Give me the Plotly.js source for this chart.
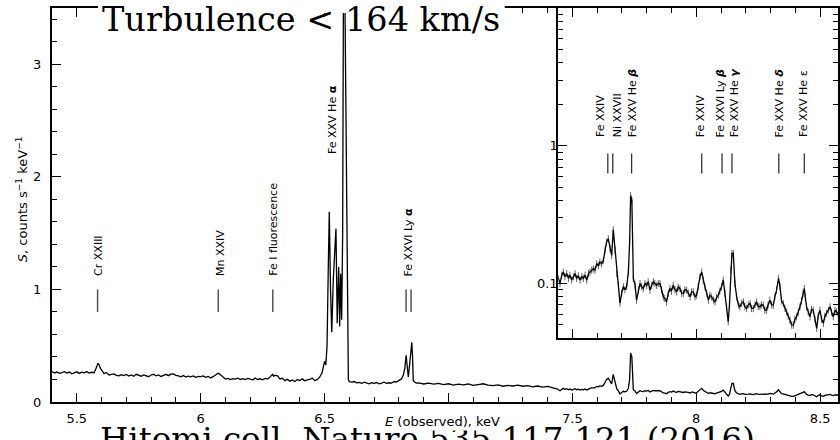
<!DOCTYPE html>
<html>
<head>
<meta charset="utf-8">
<script src="https://cdn.plot.ly/plotly-3.0.1.min.js"></script>
<style>html,body{margin:0;padding:0;background:#fff;}#chart{width:840px;height:440px;}</style>
</head>
<body>
<div id="chart"></div>
<script>
// ---- Spectrum data (energy in keV, S in counts s^-1 keV^-1) ----
const energy = [
5.40,5.41,5.42,5.43,5.44,5.45,5.46,5.47,5.48,5.49,5.50,5.51,5.52,5.53,5.54,5.55,5.56,5.57,5.575,5.58,5.585,5.59,5.595,5.60,
5.61,5.62,5.63,5.64,5.65,5.66,5.67,5.68,5.69,5.70,5.71,5.72,5.73,5.74,5.75,5.76,5.77,5.78,5.79,5.80,5.81,5.82,5.83,5.84,
5.85,5.86,5.87,5.88,5.89,5.90,5.91,5.92,5.93,5.94,5.95,5.96,5.97,5.98,5.99,6.00,6.01,6.02,6.03,6.04,6.05,6.06,6.07,6.075,
6.08,6.09,6.10,6.11,6.12,6.13,6.14,6.15,6.16,6.17,6.18,6.19,6.20,6.21,6.22,6.23,6.24,6.25,6.26,6.27,6.28,6.285,6.29,6.295,
6.30,6.31,6.32,6.33,6.34,6.35,6.36,6.37,6.38,6.39,6.40,6.41,6.42,6.43,6.44,6.45,6.46,6.47,6.48,6.49,6.495,6.50,6.505,6.51,
6.515,6.519,6.524,6.529,6.535,6.541,6.546,6.551,6.557,6.561,6.565,6.569,6.573,6.576,6.582,6.587,6.592,6.596,6.60,
6.61,6.62,6.63,6.64,6.65,6.66,6.67,6.68,6.69,6.70,6.71,6.72,6.73,6.74,6.75,6.76,6.77,6.78,6.79,6.80,6.805,6.81,6.818,6.824,
6.829,6.834,6.838,6.843,6.848,6.852,6.855,6.858,6.865,6.87,6.88,6.90,6.92,6.94,6.96,6.98,7.00,7.02,7.04,7.06,7.08,7.10,
7.12,7.14,7.16,7.18,7.20,7.22,7.24,7.26,7.28,7.30,7.32,7.34,7.36,7.38,7.40,7.42,7.44,
7.450,7.457,7.4635,7.470,7.477,7.484,7.490,7.497,7.504,7.511,7.517,7.524,7.531,7.538,7.544,7.551,7.558,7.565,7.571,7.578,
7.5845,7.591,7.598,7.605,7.611,7.618,7.625,7.632,7.638,7.645,7.652,7.6585,7.665,7.672,7.679,7.686,7.692,7.699,7.7056,7.712,
7.719,7.726,7.731,7.735,7.740,7.746,7.7527,7.759,7.766,7.773,7.779,7.786,7.793,7.800,7.806,7.813,7.820,7.827,7.833,7.840,
7.847,7.8536,7.860,7.867,7.873,7.880,7.887,7.894,7.900,7.907,7.914,7.921,7.927,7.934,7.941,7.948,7.954,7.961,7.968,7.975,
7.981,7.988,7.995,8.0015,8.008,8.015,8.022,8.028,8.035,8.042,8.049,8.055,8.062,8.069,8.0755,8.082,8.089,8.095,8.102,8.109,
8.116,8.1226,8.129,8.134,8.139,8.144,8.1495,8.156,8.163,8.170,8.176,8.183,8.190,8.196,8.203,8.210,8.217,8.223,8.230,8.237,
8.2436,8.250,8.257,8.263,8.2705,8.277,8.284,8.290,8.297,8.304,8.311,8.317,8.324,8.332,8.338,8.344,8.351,8.358,8.365,8.371,
8.378,8.385,8.392,8.398,8.405,8.412,8.4185,8.425,8.431,8.436,8.440,8.445,8.452,8.459,8.465,8.472,8.479,8.486,8.492,8.499,
8.506,8.513,8.519,8.526,8.533,8.540,8.546,8.553,8.560,8.5665,8.573,8.580
];
const counts = [
0.270,0.258,0.266,0.255,0.262,0.270,0.257,0.266,0.250,0.262,0.268,0.254,0.265,0.259,0.270,0.257,0.264,0.260,0.280,0.310,0.345,0.330,0.300,0.280,
0.252,0.262,0.240,0.246,0.250,0.237,0.232,0.242,0.235,0.245,0.231,0.241,0.228,0.246,0.238,0.229,0.241,0.234,0.225,0.240,0.246,0.232,0.240,0.227,
0.238,0.246,0.234,0.248,0.250,0.237,0.232,0.224,0.235,0.221,0.230,0.224,0.232,0.219,0.228,0.225,0.232,0.219,0.227,0.214,0.225,0.238,0.256,0.250,
0.240,0.215,0.204,0.210,0.199,0.208,0.204,0.211,0.200,0.207,0.199,0.210,0.204,0.197,0.212,0.200,0.206,0.197,0.209,0.204,0.222,0.240,0.246,0.228,
0.238,0.232,0.205,0.211,0.190,0.201,0.185,0.196,0.182,0.199,0.190,0.205,0.188,0.197,0.200,0.212,0.190,0.198,0.220,0.260,0.300,0.360,0.330,0.500,
1.200,1.690,1.000,0.620,1.080,1.300,1.540,0.700,1.200,0.670,1.140,0.730,1.500,3.600,3.600,2.400,0.900,0.200,0.180,
0.176,0.182,0.170,0.174,0.166,0.176,0.168,0.161,0.171,0.165,0.173,0.162,0.168,0.176,0.165,0.171,0.168,0.180,0.178,0.190,0.200,0.205,0.240,0.300,
0.415,0.300,0.220,0.330,0.450,0.530,0.400,0.190,0.175,0.168,0.170,0.160,0.168,0.158,0.165,0.155,0.162,0.150,0.158,0.152,0.160,0.148,
0.155,0.162,0.150,0.145,0.152,0.140,0.148,0.142,0.150,0.140,0.145,0.135,0.142,0.132,0.138,0.128,0.115,
0.100,0.115,0.121,0.112,0.118,0.109,0.115,0.106,0.112,0.118,0.109,0.114,0.106,0.112,0.109,0.115,0.106,0.118,0.121,0.125,
0.128,0.125,0.139,0.135,0.143,0.139,0.147,0.175,0.200,0.211,0.179,0.160,0.246,0.175,0.118,0.097,0.072,0.085,0.095,0.090,
0.095,0.121,0.200,0.435,0.400,0.109,0.098,0.0757,0.090,0.100,0.095,0.092,0.100,0.097,0.103,0.0895,0.097,0.103,0.100,0.097,
0.100,0.100,0.090,0.080,0.078,0.0736,0.085,0.092,0.088,0.097,0.090,0.087,0.094,0.092,0.085,0.0847,0.090,0.0895,0.085,0.080,
0.087,0.087,0.080,0.0823,0.095,0.112,0.121,0.105,0.0946,0.085,0.0757,0.082,0.080,0.076,0.0736,0.079,0.0823,0.088,0.0946,0.106,
0.085,0.0678,0.0528,0.070,0.125,0.165,0.165,0.100,0.080,0.070,0.0678,0.072,0.0736,0.068,0.0659,0.070,0.0716,0.066,0.0659,0.070,
0.0736,0.068,0.0678,0.070,0.0697,0.064,0.0641,0.070,0.0757,0.070,0.0697,0.080,0.0895,0.109,0.095,0.075,0.0716,0.066,0.0623,0.058,
0.0543,0.050,0.0499,0.055,0.0574,0.062,0.0678,0.075,0.085,0.092,0.080,0.0678,0.062,0.0574,0.065,0.0641,0.055,0.0472,0.058,0.0641,
0.055,0.0514,0.058,0.0607,0.064,0.0678,0.062,0.0574,0.064,0.0623,0.060,0.0607
];

// ---- Line identifications ----
const mainLabels = ["Cr XXIII", "Mn XXIV", "Fe I fluorescence", "Fe XXV He <b>α</b>", "Fe XXVI Ly <b>α</b>"];
const mainLabelE = [5.587, 6.078, 6.293, 6.534, 6.838];
const mainLineE  = [5.584, 6.071, 6.291, 6.829, 6.849];
const insetLabels = ["Fe XXIV", "Ni XXVII", "Fe XXV He <b><i>β</i></b>", "Fe XXIV", "Fe XXVI Ly <b><i>β</i></b>",
                     "Fe XXV He <b><i>γ</i></b>", "Fe XXV He <b><i>δ</i></b>", "Fe XXV He ε"];
const insetLabelE = [7.614, 7.683, 7.746, 8.018, 8.096, 8.156, 8.334, 8.435];
const insetLineE  = [7.643, 7.663, 7.739, 8.022, 8.104, 8.144, 8.333, 8.436];

const titleText = "Turbulence &lt; 164 km/s";
const captionText = "Hitomi coll. Nature 535 117-121 (2016)";
const yTitle = "<i>S</i>, counts s<sup>−1</sup> keV<sup>−1</sup>";
const xTitle = "<i>E</i> (observed), keV";

// ---- build ----
function segs(list, y0, y1) {
  const x = [], y = [];
  list.forEach(e => { x.push(e, e, null); y.push(y0, y1, null); });
  return {x, y};
}
const mSeg = segs(mainLineE, 0.8, 1.0);
const iSeg = segs(insetLineE, 0.63, 0.88);

const traces = [
  {x: energy, y: counts, type: 'scatter', mode: 'lines', xaxis: 'x', yaxis: 'y',
   line: {color: '#000', width: 1.3}, hoverinfo: 'skip'},
  {x: mSeg.x, y: mSeg.y, type: 'scatter', mode: 'lines', xaxis: 'x', yaxis: 'y',
   line: {color: '#555', width: 1.5}, hoverinfo: 'skip'},
  {x: energy, y: counts, type: 'scatter', mode: 'lines', xaxis: 'x2', yaxis: 'y2',
   line: {color: '#000', width: 1.3}, hoverinfo: 'skip',
   error_y: {type: 'percent', value: 6, color: '#666', thickness: 1, width: 0}},
  {x: iSeg.x, y: iSeg.y, type: 'scatter', mode: 'lines', xaxis: 'x2', yaxis: 'y2',
   line: {color: '#333', width: 1.3}, hoverinfo: 'skip'}
];

const labFont = {family: 'DejaVu Sans', size: 11, color: '#000'};
const annotations = [];
mainLabels.forEach((t, i) => {
  annotations.push({text: t, x: mainLabelE[i], y: (i === 3 ? 2.19 : 1.11), xref: 'x', yref: 'y',
    textangle: -90, showarrow: false, xanchor: 'center', yanchor: 'bottom', borderpad: 0, font: labFont});
});
insetLabels.forEach((t, i) => {
  annotations.push({text: t, x: insetLabelE[i], y: Math.log10(1.13), xref: 'x2', yref: 'y2',
    textangle: -90, showarrow: false, xanchor: 'center', yanchor: 'bottom', borderpad: 0, font: labFont});
});
// axis titles
annotations.push({text: yTitle, xref: 'paper', yref: 'paper', x: -0.038, y: 0.515, textangle: -90,
  showarrow: false, xanchor: 'center', yanchor: 'middle', font: {family: 'DejaVu Sans', size: 13, color: '#000'}});
// caption (below, cut off by the page edge), then x-title on top of it
annotations.push({text: captionText, xref: 'paper', yref: 'paper', x: 0.0585, y: -0.094,
  showarrow: false, xanchor: 'left', yanchor: 'middle', font: {family: 'DejaVu Serif', size: 32.5, color: '#000'}});
annotations.push({text: xTitle, xref: 'paper', yref: 'paper', x: 0.4968, y: -0.049, bgcolor: '#fff',
  showarrow: false, xanchor: 'center', yanchor: 'middle', borderpad: 1, font: {family: 'DejaVu Sans', size: 13, color: '#000'}});
// big title
annotations.push({text: titleText, xref: 'paper', yref: 'paper', x: 0.0611, y: 0.972,
  showarrow: false, xanchor: 'left', yanchor: 'middle', font: {family: 'DejaVu Serif', size: 33.5, color: '#000'}});

const axBase = {showgrid: false, zeroline: false, showline: true, linecolor: '#000', linewidth: 2,
  ticks: 'inside', ticklen: 9, tickwidth: 1, tickcolor: '#000', mirror: 'ticks',
  tickfont: {family: 'DejaVu Sans', size: 13, color: '#000'}};

const layout = {
  width: 840, height: 440,
  margin: {l: 52, r: 2, t: 8, b: 38},
  paper_bgcolor: '#fff', plot_bgcolor: '#fff',
  showlegend: false,
  font: {family: 'DejaVu Sans', color: '#000'},
  xaxis: Object.assign({}, axBase, {range: [5.4, 8.572], tick0: 5.5, dtick: 0.5, ticklabelstandoff: 3,
    minor: {dtick: 0.1, tick0: 5.5, ticks: 'inside', ticklen: 5, tickcolor: '#000', tickwidth: 1}}),
  yaxis: Object.assign({}, axBase, {range: [0, 3.5], tick0: 0, dtick: 1, ticklabelstandoff: 6,
    minor: {dtick: 0.2, tick0: 0, ticks: 'inside', ticklen: 5, tickcolor: '#000', tickwidth: 1}}),
  xaxis2: Object.assign({}, axBase, {domain: [0.6441, 1], anchor: 'y2', range: [7.443, 8.572],
    tick0: 7.5, dtick: 0.5, showticklabels: false,
    minor: {dtick: 0.1, tick0: 7.5, ticks: 'inside', ticklen: 5, tickcolor: '#000', tickwidth: 1}}),
  yaxis2: Object.assign({}, axBase, {domain: [0.1617, 1], anchor: 'x2', type: 'log', ticklabelstandoff: -4,
    range: [Math.log10(0.04), 1.0], tickmode: 'array', tickvals: [0.1, 1], ticktext: ['0.1', '1'],
    minor: {tickmode: 'array', tickvals: [0.04,0.05,0.06,0.07,0.08,0.09,0.2,0.3,0.4,0.5,0.6,0.7,0.8,0.9,2,3,4,5,6,7,8,9],
      ticks: 'inside', ticklen: 5, tickcolor: '#000', tickwidth: 1}}),
  shapes: [
    {type: 'rect', xref: 'paper', yref: 'paper', x0: 0.0585, x1: 0.576, y0: 0.9873, y1: 1.0203,
     fillcolor: '#fff', line: {width: 0}, layer: 'above'}
  ],
  annotations: annotations
};

Plotly.newPlot('chart', traces, layout, {staticPlot: true, displayModeBar: false});
</script>
</body>
</html>
